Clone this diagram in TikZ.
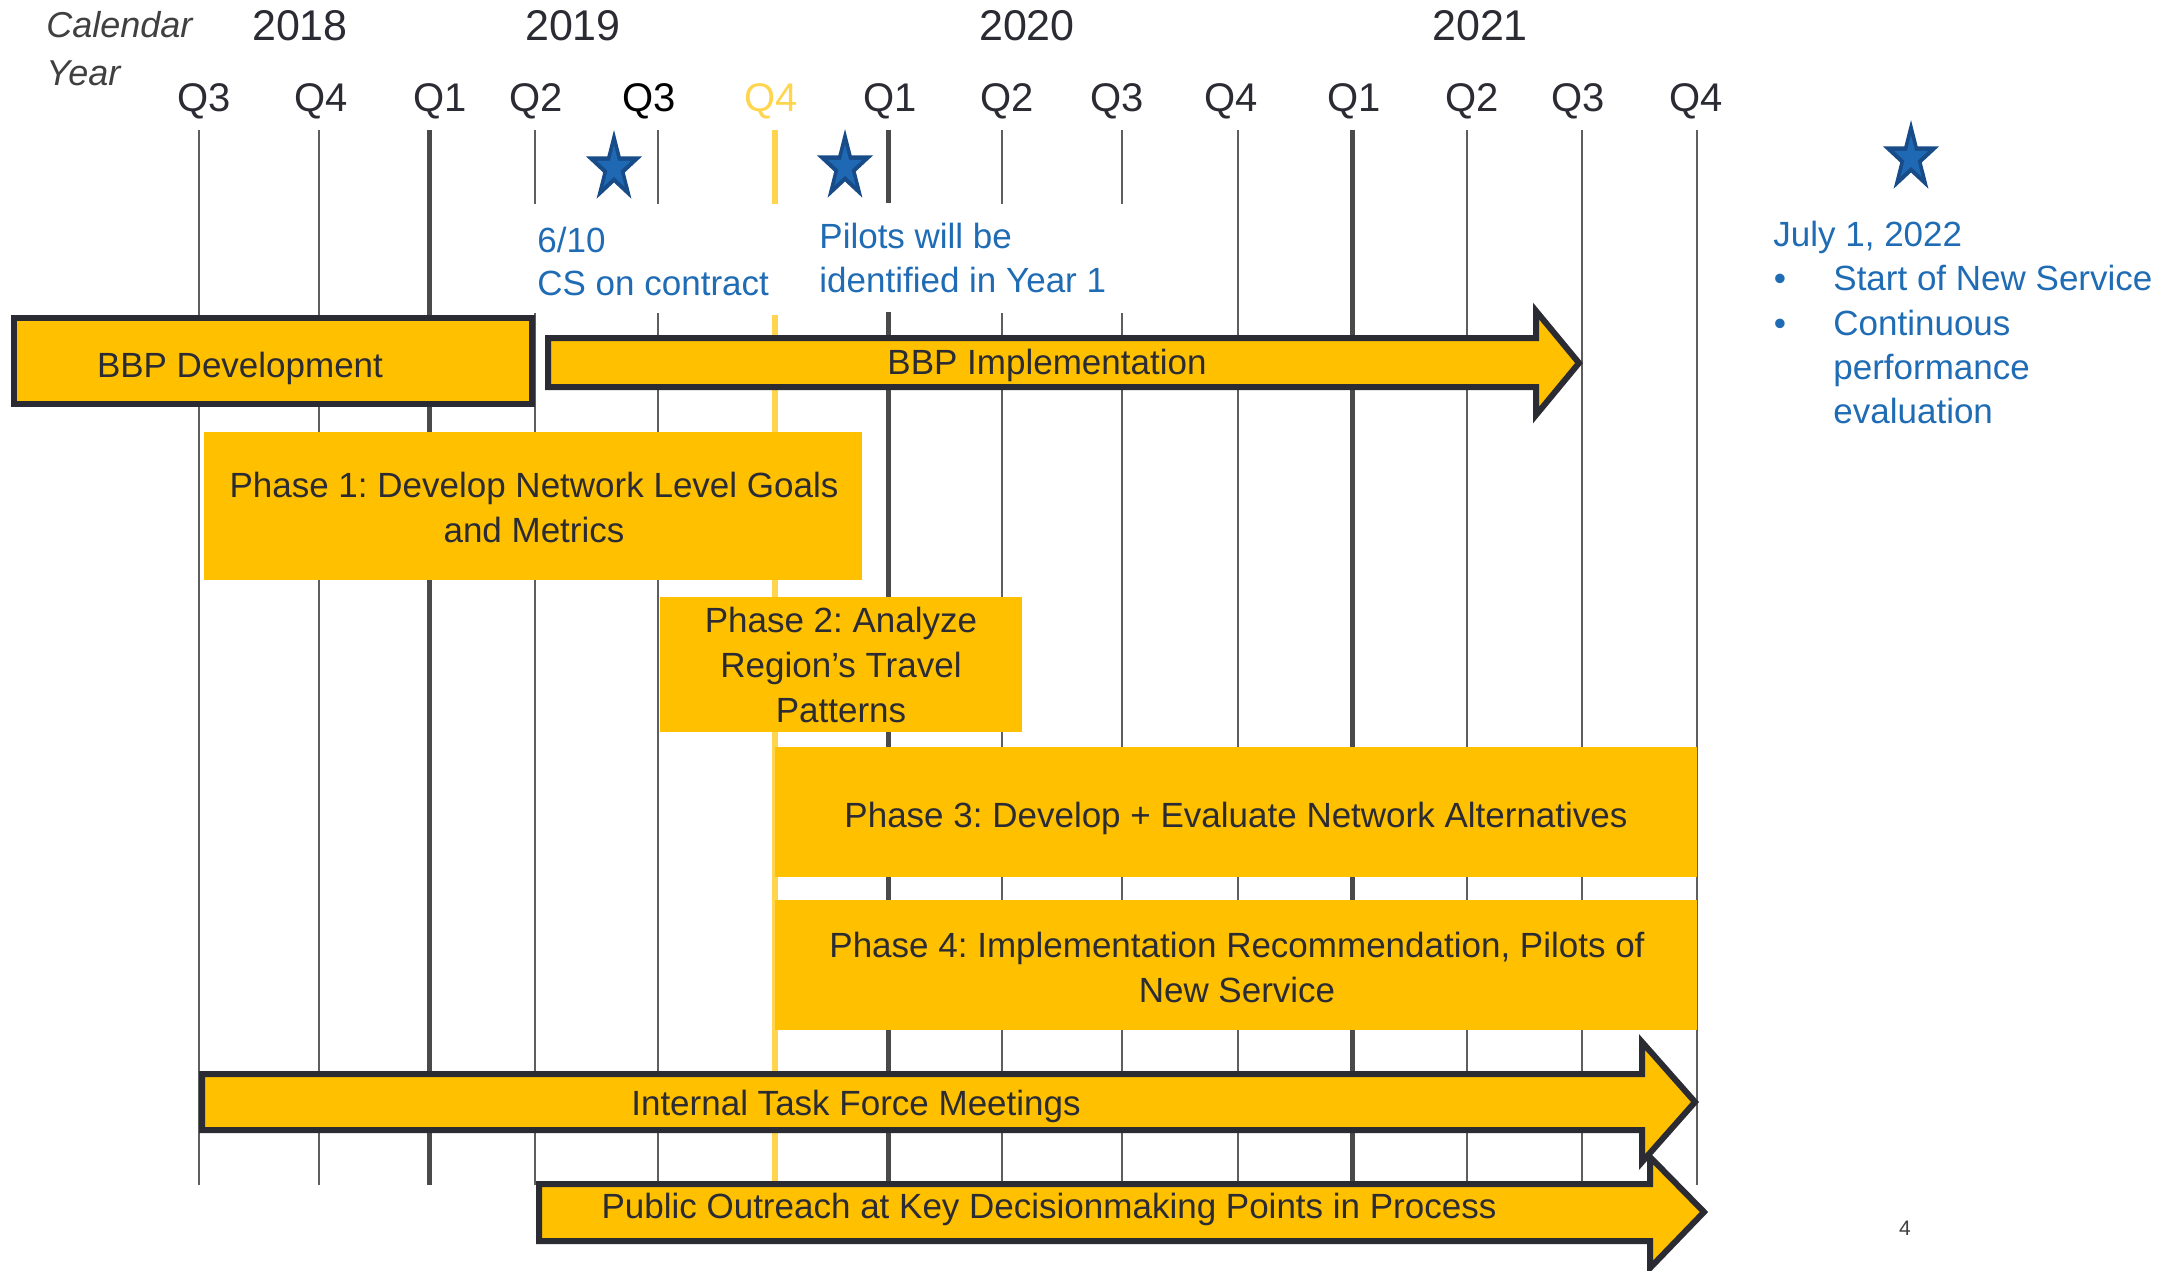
\documentclass[tikz,border=0pt]{standalone}
\usepackage{fontspec}
\setmainfont{Liberation Sans}
\frenchspacing
\definecolor{barY}{HTML}{FFC000}
\definecolor{barD}{HTML}{2B2B33}
\definecolor{txtD}{HTML}{2B2B33}
\definecolor{lineT}{HTML}{5E5E5E}
\definecolor{lineK}{HTML}{4A4A4A}
\definecolor{lineY}{HTML}{FFD54F}
\definecolor{blueT}{HTML}{1F6CB4}
\definecolor{starD}{HTML}{174C88}
\definecolor{starL}{HTML}{1F68B3}
\begin{document}
\frenchspacing
\begin{tikzpicture}[x=0.5pt,y=-0.5pt,
  thinline/.style={draw=lineT, line width=1pt},
  thickline/.style={draw=lineK, line width=2.5pt},
  yline/.style={draw=lineY, line width=3pt},
  bar/.style={fill=barY, draw=barD, line width=3pt, line join=miter},
  block/.style={fill=barY},
  lbl/.style={font=\fontsize{17.5}{22.3}\selectfont\frenchspacing, text=txtD, inner sep=0pt, align=center, anchor=base},
  bluet/.style={font=\fontsize{17.5}{22.3}\selectfont, text=blueT, inner sep=0pt, anchor=base west},
  yearl/.style={font=\fontsize{21.5}{24}\selectfont, text=txtD, inner sep=0pt, anchor=base},
  ql/.style={font=\fontsize{20}{24}\selectfont, text=txtD, inner sep=0pt, anchor=base},
  cal/.style={font=\fontsize{18}{22}\selectfont\itshape, text=black!75, inner sep=0pt, anchor=base west},
  pics/bstar/.style={code={
    \fill[starD, xscale=0.78] (-90:38) -- (-54:14.5) -- (-18:38) -- (18:14.5) -- (54:38) -- (90:14.5) -- (126:38) -- (162:14.5) -- (198:38) -- (234:14.5) -- cycle;
    \fill[starL, xscale=0.78] (-90:23) -- (-54:8.8) -- (-18:23) -- (18:8.8) -- (54:23) -- (90:8.8) -- (126:23) -- (162:8.8) -- (198:23) -- (234:8.8) -- cycle;
  }}
]
\useasboundingbox (0,0) rectangle (2164,1270);
\clip (0,0) rectangle (2164,1270);

% header
\node[cal] (calA) at (46,37) {Calendar};
\node[cal] (calB) at (46,85) {Year};
\node[yearl] (y18) at (300,40) {2018};
\node[yearl] (y19) at (573,40) {2019};
\node[yearl] (y20) at (1027,40) {2020};
\node[yearl] (y21) at (1480,40) {2021};

\node[ql] (q1) at (204,111) {Q3};
\node[ql] (q2) at (321,111) {Q4};
\node[ql] (q3) at (440,111) {Q1};
\node[ql] (q4) at (536,111) {Q2};
\node[ql, text=black] (q5) at (649,111) {Q3};
\node[ql, text=lineY] (q6) at (771,111) {Q4};
\node[ql] (q7) at (890,111) {Q1};
\node[ql] (q8) at (1007,111) {Q2};
\node[ql] (q9) at (1117,111) {Q3};
\node[ql] (q10) at (1231,111) {Q4};
\node[ql] (q11) at (1354,111) {Q1};
\node[ql] (q12) at (1472,111) {Q2};
\node[ql] (q13) at (1578,111) {Q3};
\node[ql] (q14) at (1696,111) {Q4};

% grid lines
\foreach \x in {199,319,1238,1467,1582,1697} \draw[thinline] (\x,130) -- (\x,1185);
\foreach \x in {429,1352} \draw[thickline] (\x,130) -- (\x,1185);
\foreach \x in {535,658,1002,1122} {\draw[thinline] (\x,130) -- (\x,204); \draw[thinline] (\x,313) -- (\x,1185);}
\draw[thickline] (888,130) -- (888,203); \draw[thickline] (888,312) -- (888,1185);
\draw[yline] (775,130) -- (775,204); \draw[yline] (775,315) -- (775,1185);

% stars
\pic at (614,168) {bstar};
\pic at (845,167) {bstar};
\pic at (1911,158) {bstar};

% blue notes
\node[bluet] (n1a) at (537,252) {6/10};
\node[bluet] (n1b) at (537,295) {CS on contract};
\node[bluet] (n2a) at (819,248) {Pilots will be};
\node[bluet] (n2b) at (819,292) {identified in Year 1};
\node[bluet] (n3) at (1773,246) {July 1, 2022};
\node[bluet, anchor=base] (b1) at (1780,290) {•};
\node[bluet, anchor=base] (b2) at (1780,335) {•};
\node[bluet] (n3a) at (1833,290) {Start of New Service};
\node[bluet] (n3b) at (1833,335) {Continuous};
\node[bluet] (n3c) at (1833,379) {performance};
\node[bluet] (n3d) at (1833,423) {evaluation};

% bars
\draw[bar] (13.5,318) rectangle (532,404);
\node[lbl] (dev) at (240,377) {BBP Development};

\draw[bar] (548,338) -- (1536,338) -- (1536,311) -- (1579,363) -- (1536,415) -- (1536,387) -- (548,387) -- cycle;
\node[lbl] (impl) at (1047,374) {BBP Implementation};

\fill[block] (204,432) rectangle (862,580);
\node[lbl] (ph1) at (534,542) {Phase 1: Develop Network Level Goals\\and Metrics};

\fill[block] (660,597) rectangle (1022,732);
\node[lbl] (ph2) at (841,722) {Phase 2: Analyze\\Region’s Travel\\Patterns};

\fill[block] (775,747) rectangle (1697,877);
\node[lbl] (ph3) at (1236,827) {Phase 3: Develop + Evaluate Network Alternatives};

\fill[block] (775,900) rectangle (1697,1030);
\node[lbl] (ph4) at (1237,1002) {Phase 4: Implementation Recommendation, Pilots of\\New Service};

\draw[bar] (539,1184) -- (1650,1184) -- (1650,1157) -- (1704,1212) -- (1650,1268) -- (1650,1241) -- (539,1241) -- cycle;
\node[lbl] (po) at (1049,1218) {Public Outreach at Key Decisionmaking Points in Process};

\draw[bar] (202,1074) -- (1642,1074) -- (1642,1042) -- (1695,1102) -- (1642,1162) -- (1642,1130) -- (202,1130) -- cycle;
\node[lbl] (itf) at (856,1115) {Internal Task Force Meetings};

\node[font=\fontsize{10.5}{12}\selectfont, text=black!75, inner sep=0pt, anchor=base] (pg) at (1905,1235) {4};
\end{tikzpicture}
\end{document}
